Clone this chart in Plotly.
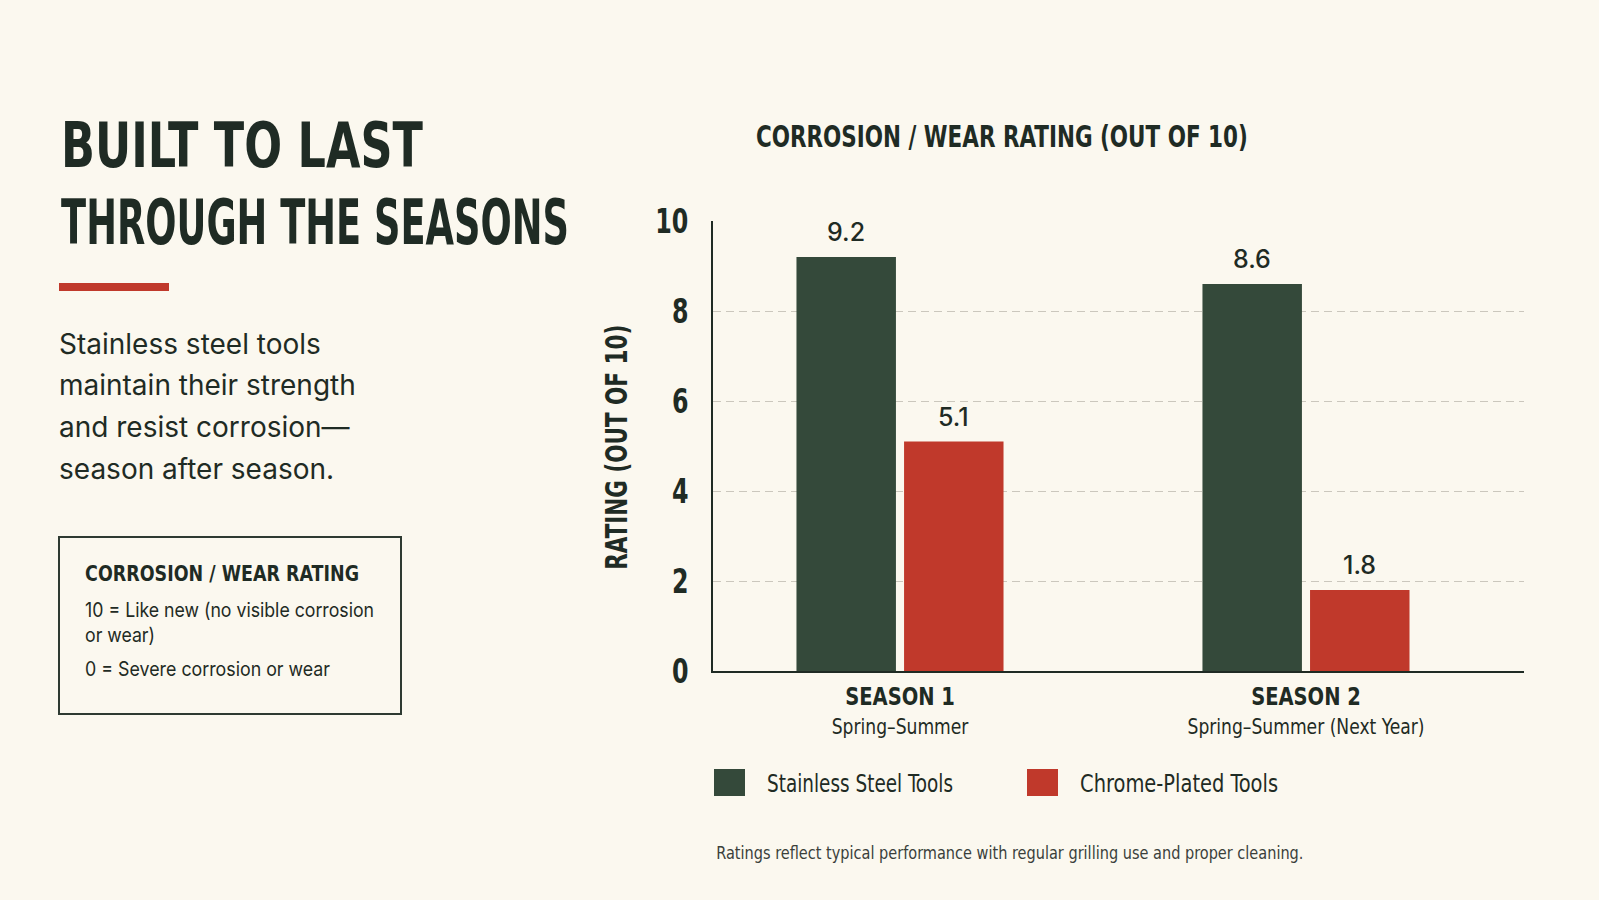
import json
import plotly.graph_objects as go

# ---------------- data ----------------
seasons = ["SEASON 1", "SEASON 2"]
season_subtitles = ["Spring–Summer", "Spring–Summer (Next Year)"]
series_names = ["Stainless Steel Tools", "Chrome-Plated Tools"]
stainless_values = [9.2, 8.6]
chrome_values = [5.1, 1.8]
y_ticks = [0, 2, 4, 6, 8, 10]

title_lines = ["BUILT TO LAST", "THROUGH THE SEASONS"]
body_lines = ["Stainless steel tools", "maintain their strength",
              "and resist corrosion—", "season after season."]
box_title = "CORROSION / WEAR RATING"
box_lines = ["10 = Like new (no visible corrosion", "or wear)", "0 = Severe corrosion or wear"]
chart_title = "CORROSION / WEAR RATING (OUT OF 10)"
y_title = "RATING (OUT OF 10)"
footnote = "Ratings reflect typical performance with regular grilling use and proper cleaning."

# ---------------- style ----------------
BG = "#fbf8ef"
DARK = "#1f2b24"
GREEN = "#34493a"
RED = "#c0392b"
GRID = "#cbc7bd"
COLORS = [GREEN, RED]
BODY = "Inter, Roboto, sans-serif"
COND = "DejaVu Sans Condensed, DejaVu Sans, sans-serif"

def cfont(size, weight=400, color=DARK, family=COND):
    return dict(family=family, size=size, weight=weight, color=color)

W, H = 1599, 900
PX0, PX1, PY1, PY0 = 713, 1524, 221, 671   # plot area in pixels
BAR_W = 0.245
GAP = 0.02
offsets = [-(BAR_W + GAP / 2), GAP / 2]

def px2x(px):
    return (px - PX0) / (PX1 - PX0)

def py2y(py):
    return (PY0 - py) / (PY0 - PY1)

fig = go.Figure()
x_idx = list(range(len(seasons)))
for name, vals, col, off in zip(series_names, [stainless_values, chrome_values], COLORS, offsets):
    fig.add_trace(go.Bar(x=x_idx, y=vals, name=name, width=BAR_W, offset=off,
                         marker=dict(color=col, line=dict(width=0)),
                         showlegend=False, hoverinfo="skip"))

annotations = []
fit = {}   # annotation index -> [target width px, anchor]

def add_ann(target=None, anchor="left", **kw):
    if target is not None:
        fit[len(annotations)] = [target, anchor]
    annotations.append(dict(showarrow=False, **kw))

for vals, off in zip([stainless_values, chrome_values], offsets):
    for i, v in enumerate(vals):
        add_ann(x=i + off + BAR_W / 2, y=v, xref="x", yref="y", text=f"{v:.1f}",
                yanchor="bottom", yshift=8, font=cfont(25, 500, family=BODY))

for txt, cy, tw in zip(title_lines, [146, 222], [362, 508]):
    add_ann(target=tw, anchor="left", x=px2x(59), y=py2y(cy), xref="paper", yref="paper",
            text=txt, xanchor="left", yanchor="middle", font=cfont(63, 700))
for txt, cy in zip(body_lines, [344, 385, 427, 469]):
    add_ann(x=px2x(57), y=py2y(cy), xref="paper", yref="paper", text=txt,
            xanchor="left", yanchor="middle", font=cfont(28, 400, family=BODY))
add_ann(target=274, anchor="left", x=px2x(83), y=py2y(573), xref="paper", yref="paper",
        text=box_title, xanchor="left", yanchor="middle", font=cfont(22, 700))
for txt, cy, tw in zip(box_lines, [610, 635, 669], [289, 70, 245]):
    add_ann(target=tw, anchor="left", x=px2x(83), y=py2y(cy), xref="paper", yref="paper",
            text=txt, xanchor="left", yanchor="middle", font=cfont(20, 400, family=BODY))

add_ann(target=492, anchor="center", x=px2x(1002), y=py2y(137), xref="paper", yref="paper",
        text=chart_title, xanchor="center", yanchor="middle", font=cfont(30, 700))
add_ann(target=245, anchor="center", x=px2x(616), y=py2y(447), xref="paper", yref="paper",
        text=y_title, xanchor="center", yanchor="middle", textangle=-90, font=cfont(30, 700))

shapes = []
legend_sq_x = [714, 1027]
legend_txt_x = [765, 1078]
legend_txt_w = [186, 198]
for name, col, sx, tx, tw in zip(series_names, COLORS, legend_sq_x, legend_txt_x, legend_txt_w):
    shapes.append(dict(type="rect", xref="paper", yref="paper", x0=px2x(sx), x1=px2x(sx + 31),
                       y0=py2y(796), y1=py2y(769), fillcolor=col, line=dict(width=0)))
    add_ann(target=tw, anchor="left", x=px2x(tx), y=py2y(784), xref="paper", yref="paper",
            text=name, xanchor="left", yanchor="middle", font=cfont(24, 400))

add_ann(target=587, anchor="left", x=px2x(714), y=py2y(853), xref="paper", yref="paper",
        text=footnote, xanchor="left", yanchor="middle", font=cfont(17, 400, "#3a3f3b"))

shapes.append(dict(type="rect", xref="paper", yref="paper", x0=px2x(59), x1=px2x(169),
                   y0=py2y(291), y1=py2y(283), fillcolor=RED, line=dict(width=0)))
shapes.append(dict(type="rect", xref="paper", yref="paper", x0=px2x(59), x1=px2x(401),
                   y0=py2y(714), y1=py2y(537), fillcolor="rgba(0,0,0,0)",
                   line=dict(color="#2e3a32", width=2)))

ticktext = [f"<span style='font-size:25px;font-weight:bold'>{s}</span><br>{sub}"
            for s, sub in zip(seasons, season_subtitles)]

fig.update_layout(
    width=W, height=H,
    margin=dict(l=PX0, r=W - PX1, t=PY1, b=H - PY0, pad=0),
    paper_bgcolor=BG, plot_bgcolor=BG,
    barmode="overlay",
    showlegend=False,
    annotations=annotations,
    shapes=shapes,
    xaxis=dict(range=[-0.4606, 1.537], tickvals=x_idx, ticktext=ticktext,
               showgrid=False, zeroline=False, showline=True, linecolor=DARK, linewidth=2,
               ticks="", ticklabelstandoff=6,
               tickfont=cfont(22, 400), fixedrange=True),
    yaxis=dict(range=[0, 10], tickvals=y_ticks, showgrid=True,
               gridcolor=GRID, griddash="8px,5px",
               gridwidth=1, zeroline=False, showline=True, linecolor=DARK, linewidth=2,
               ticks="", ticklabelstandoff=16,
               tickfont=cfont(33, 700), fixedrange=True),
)

XTICK_TARGET = 237  # width of the widest season tick label in px
YTICK_SCALE = 0.8

post = """
var gd = document.getElementById('{plot_id}');
var fit = FIT_JSON;
function applyScale(t, sx, anchor) {
  if (t.__orig === undefined) { t.__orig = t.getAttribute('transform') || ''; }
  t.setAttribute('transform', t.__orig);
  var bb = t.getBBox();
  var cx = anchor === 'left' ? bb.x : (anchor === 'right' ? bb.x + bb.width : bb.x + bb.width / 2);
  t.setAttribute('transform', t.__orig + ' translate(' + cx + ',0) scale(' + sx +
                 ',1) translate(' + (-cx) + ',0)');
}
function fixAll() {
  Object.keys(fit).forEach(function (k) {
    var g = gd.querySelector('g.annotation[data-index="' + k + '"]');
    if (!g) { return; }
    var t = g.querySelector('text.annotation-text');
    if (!t) { return; }
    var w = t.getBBox().width;
    if (w > 0) { applyScale(t, fit[k][0] / w, fit[k][1]); }
  });
  var ts = gd.querySelectorAll('g.xtick text');
  var mw = 0;
  ts.forEach(function (t) { mw = Math.max(mw, t.getBBox().width); });
  if (mw > 0) { ts.forEach(function (t) { applyScale(t, XT / mw, 'center'); }); }
  gd.querySelectorAll('g.ytick text').forEach(function (t) { applyScale(t, YS, 'right'); });
}
fixAll();
setTimeout(fixAll, 200);
"""
post = (post.replace("FIT_JSON", json.dumps(fit)).replace("XT", str(XTICK_TARGET))
        .replace("YS", str(YTICK_SCALE)))

fig.write_html("out.html", config={"displayModeBar": False}, post_script=post)
